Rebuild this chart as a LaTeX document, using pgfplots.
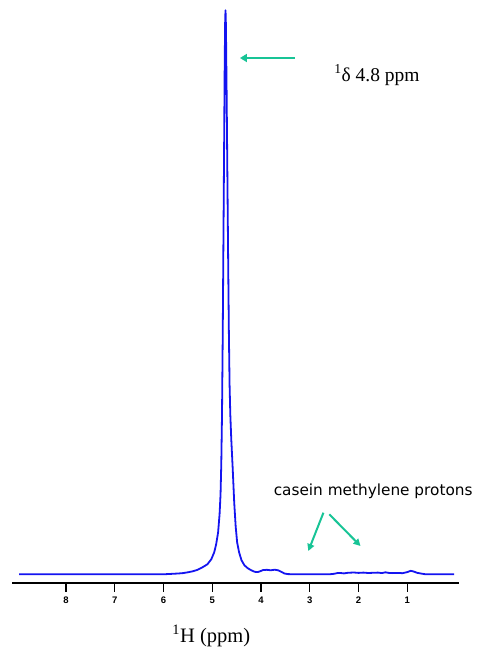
\documentclass[border=0pt]{standalone}
\usepackage{fontspec}
\setmainfont{Liberation Serif}
\newfontfamily\annfont{DejaVu Sans}
\newfontfamily\tickfont{Liberation Sans}
\usepackage{pgfplots}
\pgfplotsset{compat=1.18}
\usetikzlibrary{arrows.meta}
\definecolor{specblue}{RGB}{20,20,240}
\definecolor{arrowgreen}{RGB}{24,196,150}
\begin{document}
\begin{tikzpicture}
\path[use as bounding box] (-12bp,-73.3bp) rectangle (466bp,582.7bp);
\begin{axis}[
  at={(0,0)}, anchor=south west,
  scale only axis, width=446.7bp, height=573.4bp,
  x dir=reverse,
  xmin=-0.054, xmax=9.107, ymin=-8.4, ymax=565,
  axis x line*=bottom, axis y line=none,
  x axis line style={-, line width=1.6bp},
  xtick={1,2,3,4,5,6,7,8},
  tick align=outside,
  major tick length=9bp,
  xtick style={line width=1.4bp, black},
  /pgf/number format/assume math mode=true,
  xticklabel style={font=\tickfont\bfseries\fontsize{9.5bp}{10bp}\selectfont, yshift=-2bp},
  clip=false,
]
\addplot[specblue, line width=1.8bp, line join=round] coordinates {
(8.96,0) (8.0,0) (7.0,0) (6.0,0) (5.85,0.4) (5.7,0.8) (5.6,1.2) (5.5,2)
(5.4,3) (5.3,4.5) (5.2,7) (5.1,10) (5.02,15) (4.96,22) (4.92,30) (4.88,42)
(4.85,60) (4.83,80) (4.815,110) (4.80,160) (4.785,240) (4.77,340) (4.755,440)
(4.745,510) (4.735,555) (4.728,564) (4.72,550) (4.705,480) (4.69,400)
(4.675,320) (4.66,245) (4.645,190) (4.63,160) (4.61,135) (4.58,105) (4.55,72)
(4.52,48) (4.49,32) (4.45,22) (4.40,14) (4.34,9) (4.27,6) (4.20,4) (4.13,2.5)
(4.07,2.2) (4.02,3.0) (3.96,4.2) (3.88,4.5) (3.80,4.0) (3.72,4.6) (3.65,4.0)
(3.58,2.4) (3.52,0.8) (3.45,0.2) (3.3,0) (2.6,0) (2.5,0.5) (2.42,1.4)
(2.35,1.2) (2.3,0.9) (2.22,1.5) (2.1,1.8) (2.0,1.4) (1.9,1.7) (1.8,1.3)
(1.7,1.5) (1.6,1.7) (1.52,1.2) (1.45,2.0) (1.38,1.4) (1.3,1.2) (1.2,1.4)
(1.1,1.1) (1.0,2.2) (0.93,3.5) (0.87,2.8) (0.8,1.5) (0.7,0.6) (0.62,0) (0.04,0)
};
% annotations
\draw[arrowgreen, line width=2.6bp, -{Triangle[length=7bp,width=8bp]}]
  (axis cs:3.304,516.3) -- (axis cs:4.432,516.3);
\node[anchor=west, inner sep=0pt, font=\fontsize{19.5bp}{22bp}\selectfont]
  at (axis cs:2.50,499.3) {\textsuperscript{1}δ 4.8 ppm};
\node[anchor=center, inner sep=0pt, font=\annfont\fontsize{15.3bp}{18bp}\selectfont]
  at (axis cs:1.70,82.6) {casein methylene protons};
\draw[arrowgreen, line width=2bp, -{Triangle[length=7bp,width=7bp]}]
  (axis cs:2.72,61.6) -- (axis cs:3.03,23.3);
\draw[arrowgreen, line width=2bp, -{Triangle[length=7bp,width=7bp]}]
  (axis cs:2.60,60) -- (axis cs:1.96,28.3);
\node[anchor=center, inner sep=0pt, font=\fontsize{20.5bp}{24bp}\selectfont]
  at (axis cs:5.02,-8.4) [yshift=-53bp] {\textsuperscript{1}H (ppm)};
\end{axis}
\end{tikzpicture}
\end{document}
